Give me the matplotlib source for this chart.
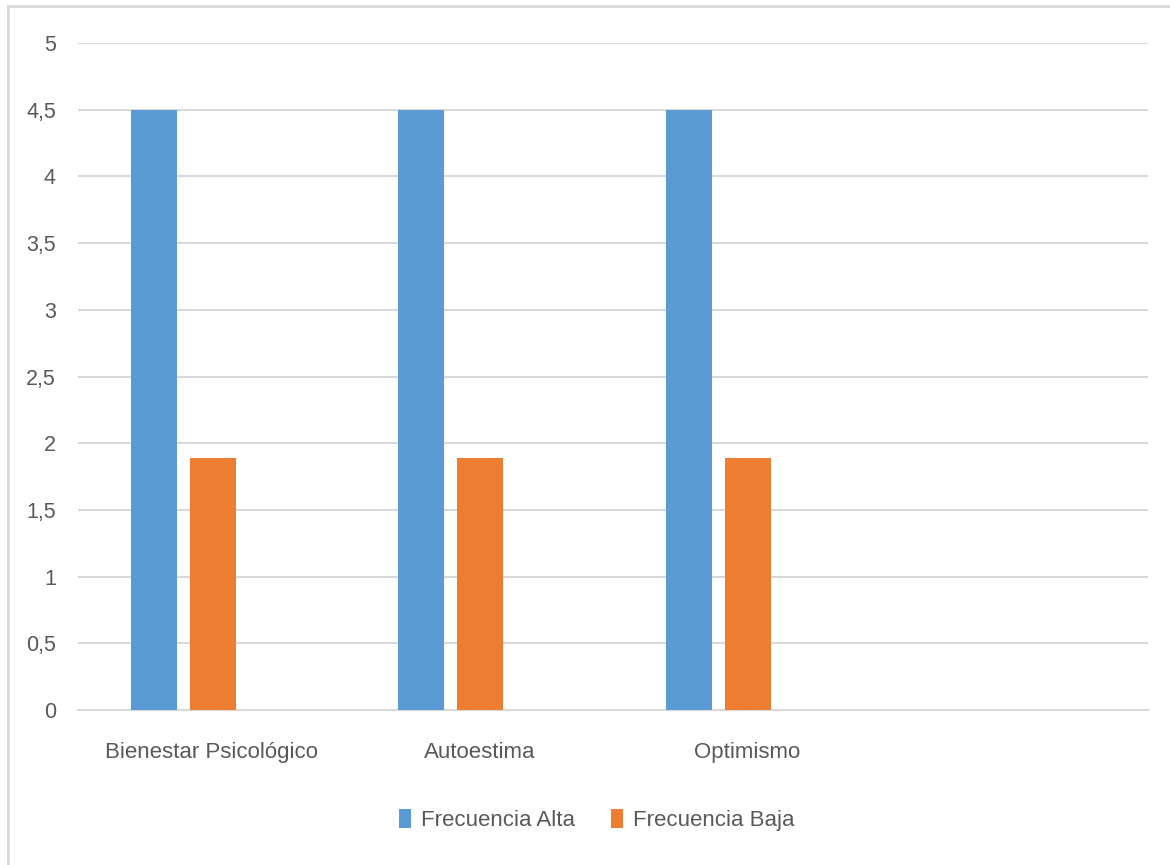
import matplotlib
matplotlib.use("Agg")
import matplotlib.pyplot as plt
from matplotlib.patches import Patch
from matplotlib.lines import Line2D

categories = ["Bienestar Psicológico", "Autoestima", "Optimismo", ""]
series_names = ["Frecuencia Alta", "Frecuencia Baja"]
frecuencia_alta = [4.5, 4.5, 4.5]
frecuencia_baja = [1.89, 1.89, 1.89]
y_ticks = [0, 0.5, 1, 1.5, 2, 2.5, 3, 3.5, 4, 4.5, 5]
y_tick_labels = ["0", "0,5", "1", "1,5", "2", "2,5", "3", "3,5", "4", "4,5", "5"]

colors = ["#5B9BD5", "#ED7D31"]
text_color = "#595959"
grid_color = "#D9D9D9"

plt.rcParams["font.family"] = ["Liberation Sans", "DejaVu Sans"]

fig = plt.figure(figsize=(11.7, 8.65), dpi=100)
ax = fig.add_axes([78 / 1170, 1 - 710 / 865, (1148 - 78) / 1170, (710 - 43) / 865])

width = 0.172
offset = 0.217
xs = range(len(frecuencia_alta))
ax.bar([x - offset for x in xs], frecuencia_alta, width=width, color=colors[0], zorder=3)
ax.bar([x + 0.003 for x in xs], frecuencia_baja, width=width, color=colors[1], zorder=3)

ax.set_xlim(-0.5, len(categories) - 0.5)
ax.set_ylim(0, 5)
ax.set_xticks(range(len(categories)))
ax.set_xticklabels(categories)
ax.set_yticks(y_ticks)
ax.set_yticklabels(y_tick_labels)

ax.yaxis.grid(True, color=grid_color, linewidth=1.5, zorder=0)
ax.set_axisbelow(True)
for side in ["top", "right", "left"]:
    ax.spines[side].set_visible(False)
ax.spines["bottom"].set_color(grid_color)
ax.spines["bottom"].set_linewidth(1.5)
ax.tick_params(axis="both", length=0, colors=text_color)
ax.tick_params(axis="x", pad=23, labelsize=16)
ax.tick_params(axis="y", pad=16, labelsize=15.5)

handles = [Patch(facecolor=c, edgecolor="none") for c in colors]
fig.legend(handles, series_names, loc="center", bbox_to_anchor=(597 / 1170, 1 - 820 / 865),
           ncol=2, frameon=False, fontsize=16, labelcolor=text_color,
           handlelength=0.55, handleheight=0.9, handletextpad=0.45, columnspacing=1.6)

# chart-area border along top and left edges
fig.add_artist(Line2D([8 / 1170, 1], [1 - 6 / 865, 1 - 6 / 865], transform=fig.transFigure,
                      color="#D9D9D9", linewidth=2))
fig.add_artist(Line2D([8 / 1170, 8 / 1170], [0, 1 - 6 / 865], transform=fig.transFigure,
                      color="#D9D9D9", linewidth=2))

fig.savefig("out.png", dpi=100, facecolor="white")
